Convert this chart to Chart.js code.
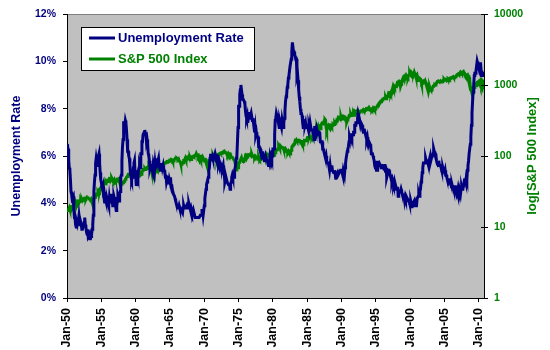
<!DOCTYPE html>
<html>
<head>
<meta charset="utf-8">
<script src="https://cdn.jsdelivr.net/npm/chart.js"></script>
<style>
  html, body { margin: 0; padding: 0; background: #fff; }
</style>
</head>
<body>
<canvas id="chart" width="550" height="350"></canvas>
<script>
// monthly, Jan 1950 .. Oct 2010
const startYear = 1950;

const unemploymentRate = [
  6.5, 6.4, 6.3, 5.8, 5.5, 5.4, 5.0, 4.5, 4.4, 4.2, 4.2, 4.3, // 1950
  3.7, 3.4, 3.4, 3.1, 3.0, 3.2, 3.1, 3.1, 3.3, 3.5, 3.5, 3.1,
  3.2, 3.1, 2.9, 2.9, 3.0, 3.0, 3.2, 3.4, 3.1, 3.0, 2.8, 2.7,
  2.9, 2.6, 2.6, 2.7, 2.5, 2.5, 2.6, 2.7, 2.9, 3.1, 3.5, 4.5,
  4.9, 5.2, 5.7, 5.9, 5.9, 5.6, 5.8, 6.0, 6.1, 5.7, 5.3, 5.0,
  4.9, 4.7, 4.6, 4.7, 4.3, 4.2, 4.0, 4.2, 4.1, 4.3, 4.2, 4.2, // 1955
  4.0, 3.9, 4.2, 4.0, 4.3, 4.3, 4.4, 4.1, 3.9, 3.9, 4.3, 4.2,
  4.2, 3.9, 3.7, 3.9, 4.1, 4.3, 4.2, 4.1, 4.4, 4.5, 5.1, 5.2,
  5.8, 6.4, 6.7, 7.4, 7.4, 7.3, 7.5, 7.4, 7.1, 6.7, 6.2, 6.2,
  6.0, 5.9, 5.6, 5.2, 5.1, 5.0, 5.1, 5.2, 5.5, 5.7, 5.8, 5.3,
  5.2, 4.8, 5.4, 5.2, 5.1, 5.4, 5.5, 5.6, 5.5, 6.1, 6.1, 6.6, // 1960
  6.6, 6.9, 6.9, 7.0, 7.1, 6.9, 7.0, 6.6, 6.7, 6.5, 6.1, 6.0,
  5.8, 5.5, 5.6, 5.6, 5.5, 5.5, 5.4, 5.7, 5.6, 5.4, 5.7, 5.5,
  5.7, 5.9, 5.7, 5.7, 5.9, 5.6, 5.6, 5.4, 5.5, 5.5, 5.7, 5.5,
  5.6, 5.4, 5.4, 5.3, 5.1, 5.2, 4.9, 5.0, 5.1, 5.1, 4.8, 5.0,
  4.9, 5.1, 4.7, 4.8, 4.6, 4.6, 4.4, 4.4, 4.3, 4.2, 4.1, 4.0, // 1965
  4.0, 3.8, 3.8, 3.8, 3.9, 3.8, 3.8, 3.8, 3.7, 3.7, 3.6, 3.8,
  3.9, 3.8, 3.8, 3.8, 3.8, 3.9, 3.8, 3.8, 3.8, 4.0, 3.9, 3.8,
  3.7, 3.8, 3.7, 3.5, 3.5, 3.7, 3.7, 3.5, 3.4, 3.4, 3.4, 3.4,
  3.4, 3.4, 3.4, 3.4, 3.4, 3.5, 3.5, 3.5, 3.7, 3.7, 3.5, 3.5,
  3.9, 4.2, 4.4, 4.6, 4.8, 4.9, 5.0, 5.1, 5.4, 5.5, 5.9, 6.1, // 1970
  5.9, 5.9, 6.0, 5.9, 5.9, 5.9, 6.0, 6.1, 6.0, 5.8, 6.0, 6.0,
  5.8, 5.7, 5.8, 5.7, 5.7, 5.7, 5.6, 5.6, 5.5, 5.6, 5.3, 5.2,
  4.9, 5.0, 4.9, 5.0, 4.9, 4.9, 4.8, 4.8, 4.8, 4.6, 4.8, 4.9,
  5.1, 5.2, 5.1, 5.1, 5.1, 5.4, 5.5, 5.5, 5.9, 6.0, 6.6, 7.2,
  8.1, 8.1, 8.6, 8.8, 9.0, 8.8, 8.6, 8.4, 8.4, 8.4, 8.3, 8.2, // 1975
  7.9, 7.7, 7.6, 7.7, 7.4, 7.6, 7.8, 7.8, 7.6, 7.7, 7.8, 7.8,
  7.5, 7.6, 7.4, 7.2, 7.0, 7.2, 6.9, 7.0, 6.8, 6.8, 6.8, 6.4,
  6.4, 6.3, 6.3, 6.1, 6.0, 5.9, 6.2, 5.9, 6.0, 5.8, 5.9, 6.0,
  5.9, 5.9, 5.8, 5.8, 5.6, 5.7, 5.7, 6.0, 5.9, 6.0, 5.9, 6.0,
  6.3, 6.3, 6.3, 6.9, 7.5, 7.6, 7.8, 7.7, 7.5, 7.5, 7.5, 7.2, // 1980
  7.5, 7.4, 7.4, 7.2, 7.5, 7.5, 7.2, 7.4, 7.6, 7.9, 8.3, 8.5,
  8.6, 8.9, 9.0, 9.3, 9.4, 9.6, 9.8, 9.8, 10.1, 10.4, 10.8, 10.8,
  10.4, 10.4, 10.3, 10.2, 10.1, 10.1, 9.4, 9.5, 9.2, 8.8, 8.5, 8.3,
  8.0, 7.8, 7.8, 7.7, 7.4, 7.2, 7.5, 7.5, 7.3, 7.4, 7.2, 7.3,
  7.3, 7.2, 7.2, 7.3, 7.2, 7.4, 7.4, 7.1, 7.1, 7.1, 7.0, 7.0, // 1985
  6.7, 7.2, 7.2, 7.1, 7.2, 7.2, 7.0, 6.9, 7.0, 7.0, 6.9, 6.6,
  6.6, 6.6, 6.6, 6.3, 6.3, 6.2, 6.1, 6.0, 5.9, 6.0, 5.8, 5.7,
  5.7, 5.7, 5.7, 5.4, 5.6, 5.4, 5.4, 5.6, 5.4, 5.4, 5.3, 5.3,
  5.4, 5.2, 5.0, 5.2, 5.2, 5.3, 5.2, 5.2, 5.3, 5.3, 5.4, 5.4,
  5.4, 5.3, 5.2, 5.4, 5.4, 5.2, 5.5, 5.7, 5.9, 5.9, 6.2, 6.3, // 1990
  6.4, 6.6, 6.8, 6.7, 6.9, 6.9, 6.8, 6.9, 6.9, 7.0, 7.0, 7.3,
  7.3, 7.4, 7.4, 7.4, 7.6, 7.8, 7.7, 7.6, 7.6, 7.3, 7.4, 7.4,
  7.3, 7.1, 7.0, 7.1, 7.1, 7.0, 6.9, 6.8, 6.7, 6.8, 6.6, 6.5,
  6.6, 6.6, 6.5, 6.4, 6.1, 6.1, 6.1, 6.0, 5.9, 5.8, 5.6, 5.5,
  5.6, 5.4, 5.4, 5.8, 5.6, 5.6, 5.7, 5.7, 5.6, 5.5, 5.6, 5.6, // 1995
  5.6, 5.5, 5.5, 5.6, 5.6, 5.3, 5.5, 5.1, 5.2, 5.2, 5.4, 5.4,
  5.3, 5.2, 5.2, 5.1, 4.9, 5.0, 4.9, 4.8, 4.9, 4.7, 4.6, 4.7,
  4.6, 4.6, 4.7, 4.3, 4.4, 4.5, 4.5, 4.5, 4.6, 4.5, 4.4, 4.4,
  4.3, 4.4, 4.2, 4.3, 4.2, 4.3, 4.3, 4.2, 4.2, 4.1, 4.1, 4.0,
  4.0, 4.1, 4.0, 3.8, 4.0, 4.0, 4.0, 4.1, 3.9, 3.9, 3.9, 3.9, // 2000
  4.2, 4.2, 4.3, 4.4, 4.3, 4.5, 4.6, 4.9, 5.0, 5.3, 5.5, 5.7,
  5.7, 5.7, 5.7, 5.9, 5.8, 5.8, 5.8, 5.7, 5.7, 5.7, 5.9, 6.0,
  5.8, 5.9, 5.9, 6.0, 6.1, 6.3, 6.2, 6.1, 6.1, 6.0, 5.8, 5.7,
  5.7, 5.6, 5.8, 5.6, 5.6, 5.6, 5.5, 5.4, 5.4, 5.5, 5.4, 5.4,
  5.3, 5.4, 5.2, 5.2, 5.1, 5.0, 5.0, 4.9, 5.0, 5.0, 5.0, 4.9, // 2005
  4.7, 4.8, 4.7, 4.7, 4.6, 4.6, 4.7, 4.7, 4.5, 4.4, 4.5, 4.4,
  4.6, 4.5, 4.4, 4.5, 4.4, 4.6, 4.7, 4.6, 4.7, 4.7, 4.7, 5.0,
  5.0, 4.9, 5.1, 5.0, 5.4, 5.6, 5.8, 6.1, 6.1, 6.5, 6.8, 7.3,
  7.8, 8.3, 8.7, 9.0, 9.4, 9.5, 9.5, 9.6, 9.8, 10.0, 9.9, 9.9,
  9.8, 9.8, 9.9, 9.9, 9.6, 9.4, 9.4, 9.5, 9.5, 9.5               // 2010
];

const sp500Index = [
  17.05, 17.22, 17.29, 17.96, 18.78, 17.69, 17.84, 18.42, 19.45, 19.53, 19.51, 20.41, // 1950
  21.66, 21.80, 21.40, 22.43, 21.52, 20.96, 22.40, 23.28, 23.26, 22.94, 22.88, 23.77,
  24.14, 23.26, 24.37, 23.32, 23.86, 24.96, 25.40, 25.03, 24.54, 24.52, 25.66, 26.57,
  26.38, 25.90, 25.29, 24.62, 24.54, 24.14, 24.75, 23.32, 23.35, 24.54, 24.76, 24.81,
  26.08, 26.15, 26.94, 28.26, 29.19, 29.21, 30.88, 29.83, 32.31, 31.68, 34.24, 35.98,
  36.63, 36.76, 36.58, 37.96, 37.91, 41.03, 43.52, 43.18, 43.67, 42.34, 45.51, 45.48, // 1955
  43.82, 45.34, 48.48, 48.38, 45.20, 46.97, 49.39, 47.51, 45.35, 45.58, 45.08, 46.67,
  44.72, 43.26, 44.11, 45.74, 47.43, 47.37, 47.91, 45.22, 42.42, 41.06, 41.72, 39.99,
  41.70, 40.84, 42.10, 43.44, 44.09, 45.24, 47.19, 47.75, 50.06, 51.33, 52.48, 55.21,
  55.42, 55.41, 55.44, 57.59, 58.68, 58.47, 60.51, 59.60, 56.88, 57.52, 58.28, 59.89,
  55.61, 56.12, 55.34, 54.37, 55.83, 56.92, 55.51, 58.07, 53.39, 53.39, 55.54, 58.11, // 1960
  61.78, 63.44, 65.06, 65.31, 66.56, 64.64, 66.76, 68.07, 66.73, 68.62, 71.32, 71.55,
  68.84, 69.96, 69.55, 65.24, 59.63, 54.75, 58.23, 59.12, 56.27, 56.52, 62.26, 63.10,
  66.20, 64.29, 66.57, 69.80, 70.80, 69.37, 69.13, 72.50, 71.70, 74.01, 73.23, 75.02,
  77.04, 77.80, 78.98, 79.46, 80.37, 81.69, 83.18, 81.83, 84.18, 84.86, 84.42, 84.75,
  87.56, 87.43, 86.16, 89.11, 88.42, 84.12, 85.25, 87.17, 89.96, 92.42, 91.61, 92.43, // 1965
  92.88, 91.22, 89.23, 91.06, 86.13, 84.74, 83.60, 77.10, 76.56, 80.20, 80.45, 80.33,
  86.61, 86.78, 90.20, 94.01, 89.08, 90.64, 94.75, 93.64, 96.71, 93.90, 94.00, 96.47,
  92.24, 89.36, 90.20, 97.59, 98.68, 99.58, 97.74, 98.86, 102.67, 103.41, 108.37, 103.86,
  103.01, 98.13, 101.51, 103.69, 103.46, 97.71, 91.83, 95.51, 93.12, 97.24, 93.81, 92.06,
  85.02, 89.50, 89.63, 81.52, 76.55, 72.72, 78.05, 81.52, 84.21, 83.25, 87.20, 92.15, // 1970
  95.88, 96.75, 100.31, 103.95, 99.63, 99.70, 95.58, 99.03, 98.34, 94.23, 93.99, 102.09,
  103.94, 106.57, 107.20, 107.67, 109.53, 107.14, 107.39, 111.09, 110.55, 111.58, 116.67, 118.05,
  116.03, 111.68, 111.52, 106.97, 104.95, 104.26, 108.22, 104.25, 108.43, 108.29, 95.96, 97.55,
  96.57, 96.22, 93.98, 90.31, 87.28, 86.00, 79.31, 72.15, 63.54, 73.90, 69.97, 68.56,
  76.98, 81.59, 83.36, 87.30, 91.15, 95.19, 88.75, 86.88, 83.87, 89.04, 91.24, 90.19, // 1975
  100.86, 99.71, 102.77, 101.64, 100.18, 104.28, 103.44, 102.91, 105.24, 102.90, 102.10, 107.46,
  102.03, 99.82, 98.42, 98.44, 96.12, 100.48, 98.85, 96.77, 96.53, 92.34, 94.83, 95.10,
  89.25, 87.04, 89.21, 96.83, 97.24, 95.53, 100.68, 103.29, 102.54, 93.15, 94.70, 96.11,
  99.93, 96.28, 101.59, 101.76, 99.08, 102.91, 103.81, 109.32, 109.32, 101.82, 106.16, 107.94,
  114.16, 113.66, 102.09, 106.29, 111.24, 114.24, 121.67, 122.38, 125.46, 127.47, 140.52, 135.76, // 1980
  129.55, 131.27, 136.00, 132.81, 132.59, 131.21, 130.92, 122.79, 116.18, 121.89, 126.35, 122.55,
  120.40, 113.11, 111.96, 116.44, 111.88, 109.61, 107.09, 119.51, 120.42, 133.71, 138.54, 140.64,
  145.30, 148.06, 152.96, 164.42, 162.39, 168.11, 162.56, 164.40, 166.07, 163.55, 166.40, 164.93,
  163.41, 157.06, 159.18, 160.05, 150.55, 153.18, 150.66, 166.68, 166.10, 166.09, 163.58, 167.24,
  179.63, 181.18, 180.66, 179.83, 189.55, 191.85, 190.92, 188.63, 182.08, 189.82, 202.17, 211.28, // 1985
  211.78, 226.92, 238.90, 235.52, 247.35, 250.84, 236.12, 252.93, 231.32, 243.98, 249.22, 242.17,
  274.08, 284.20, 291.70, 288.36, 290.10, 304.00, 318.66, 329.80, 321.83, 251.79, 230.30, 247.08,
  257.07, 267.82, 258.89, 261.33, 262.16, 273.50, 272.02, 261.52, 271.91, 278.97, 273.70, 277.72,
  297.47, 288.86, 294.87, 309.64, 320.52, 317.98, 346.08, 351.45, 349.15, 340.36, 345.99, 353.40,
  329.08, 331.89, 339.94, 330.80, 361.23, 358.02, 356.15, 322.56, 306.05, 304.00, 322.22, 330.22, // 1990
  343.93, 367.07, 375.22, 375.35, 389.83, 371.16, 387.81, 395.43, 387.86, 392.46, 375.22, 417.09,
  408.79, 412.70, 403.69, 414.95, 415.35, 408.14, 424.21, 414.03, 417.80, 418.68, 431.35, 435.71,
  438.78, 443.38, 451.67, 440.19, 450.19, 450.53, 448.13, 463.56, 458.93, 467.83, 461.79, 466.45,
  481.61, 467.14, 445.77, 450.91, 456.50, 444.27, 458.26, 475.49, 462.69, 472.35, 453.69, 459.27,
  470.42, 487.39, 500.71, 514.71, 533.40, 544.75, 562.06, 561.88, 584.41, 581.50, 605.37, 615.93, // 1995
  636.02, 640.43, 645.50, 654.17, 669.12, 670.63, 639.95, 651.99, 687.31, 705.27, 757.02, 740.74,
  786.16, 790.82, 757.12, 801.34, 848.28, 885.14, 954.29, 899.47, 947.28, 914.62, 955.40, 970.43,
  980.28, 1049.34, 1101.75, 1111.75, 1090.82, 1133.84, 1120.67, 957.28, 1017.01, 1098.67, 1163.63, 1229.23,
  1279.64, 1238.33, 1286.37, 1335.18, 1301.84, 1372.71, 1328.72, 1320.41, 1282.71, 1362.93, 1388.91, 1469.25,
  1394.46, 1366.42, 1498.58, 1452.43, 1420.60, 1454.60, 1430.83, 1517.68, 1436.51, 1429.40, 1314.95, 1320.28, // 2000
  1366.01, 1239.94, 1160.33, 1249.46, 1255.82, 1224.38, 1211.23, 1133.58, 1040.94, 1059.78, 1139.45, 1148.08,
  1130.20, 1106.73, 1147.39, 1076.92, 1067.14, 989.82, 911.62, 916.07, 815.28, 885.76, 936.31, 879.82,
  855.70, 841.15, 849.18, 916.92, 963.59, 974.50, 990.31, 1008.01, 995.97, 1050.71, 1058.20, 1111.92,
  1131.13, 1144.94, 1126.21, 1107.30, 1120.68, 1140.84, 1101.72, 1104.24, 1114.58, 1130.20, 1173.82, 1211.92,
  1181.27, 1203.60, 1180.59, 1156.85, 1191.50, 1191.33, 1234.18, 1220.33, 1228.81, 1207.01, 1249.48, 1248.29, // 2005
  1280.08, 1280.66, 1294.83, 1310.61, 1270.09, 1270.20, 1276.66, 1303.82, 1335.85, 1377.94, 1400.63, 1418.30,
  1438.24, 1406.82, 1420.86, 1482.37, 1530.62, 1503.35, 1455.27, 1473.99, 1526.75, 1549.38, 1481.14, 1468.36,
  1378.55, 1330.63, 1322.70, 1385.59, 1400.38, 1280.00, 1267.38, 1282.83, 1166.36, 968.75, 896.24, 903.25,
  825.88, 735.09, 797.87, 872.81, 919.14, 919.32, 987.48, 1020.62, 1057.08, 1036.19, 1095.63, 1115.10,
  1073.87, 1104.49, 1169.43, 1186.69, 1089.41, 1030.71, 1101.60, 1049.33, 1141.20, 1183.26                  // 2010
];

const xTickYears = [1950, 1955, 1960, 1965, 1970, 1975, 1980, 1985, 1990, 1995, 2000, 2005, 2010];
const leftTicks = [0, 2, 4, 6, 8, 10, 12];
const rightTicks = [1, 10, 100, 1000, 10000];

const NAVY = "#000080";
const GREEN = "#008000";
const FONT = "'Liberation Sans', Arial, sans-serif";

const toPoints = (values) => values.map((v, i) => ({ x: startYear + i / 12, y: v }));

// grey plot area, grey top border
const plotBackground = {
  id: "plotBackground",
  beforeDraw(chart) {
    const { ctx, chartArea: a } = chart;
    ctx.save();
    ctx.fillStyle = "#C0C0C0";
    ctx.fillRect(a.left, a.top, a.right - a.left, a.bottom - a.top);
    ctx.strokeStyle = "#808080";
    ctx.lineWidth = 1;
    ctx.beginPath();
    ctx.moveTo(a.left, a.top + 0.5);
    ctx.lineTo(a.right, a.top + 0.5);
    ctx.stroke();
    ctx.restore();
  }
};

// boxed legend inside the plot + both axis titles reading bottom to top
const extras = {
  id: "extras",
  afterDraw(chart) {
    const { ctx, chartArea: a } = chart;
    ctx.save();

    // right axis ticks cross the axis line
    const y1 = chart.scales.y1;
    ctx.strokeStyle = "#000";
    ctx.lineWidth = 1;
    y1.ticks.forEach((t) => {
      const y = Math.round(y1.getPixelForValue(t.value)) + 0.5;
      ctx.beginPath();
      ctx.moveTo(a.right - 3, y);
      ctx.lineTo(a.right, y);
      ctx.stroke();
    });

    ctx.fillStyle = "#fff";
    ctx.fillRect(81, 27, 173, 43);
    ctx.strokeStyle = "#000";
    ctx.lineWidth = 1;
    ctx.strokeRect(81.5, 27.5, 173, 43);

    ctx.font = "bold 13px " + FONT;
    ctx.textBaseline = "middle";
    chart.data.datasets.forEach((ds, i) => {
      const y = 38 + i * 21;
      ctx.strokeStyle = ds.borderColor;
      ctx.lineWidth = 3;
      ctx.beginPath();
      ctx.moveTo(89, y);
      ctx.lineTo(115, y);
      ctx.stroke();
      ctx.fillStyle = ds.borderColor;
      ctx.fillText(ds.label, 118, y + 0.5);
    });

    const midY = (a.top + a.bottom) / 2;
    ctx.textAlign = "center";
    ctx.textBaseline = "middle";

    ctx.save();
    ctx.translate(17, midY);
    ctx.rotate(-Math.PI / 2);
    ctx.fillStyle = NAVY;
    ctx.font = "bold 12.5px " + FONT;
    ctx.fillText("Unemployment Rate", 0, 0);
    ctx.restore();

    ctx.save();
    ctx.translate(532, midY);
    ctx.rotate(-Math.PI / 2);
    ctx.fillStyle = GREEN;
    ctx.font = "bold 13px " + FONT;
    ctx.fillText("log[S&P 500 Index]", 0, 0);
    ctx.restore();

    ctx.restore();
  }
};

new Chart(document.getElementById("chart"), {
  type: "line",
  data: {
    datasets: [
      {
        label: "Unemployment Rate",
        data: toPoints(unemploymentRate),
        borderColor: NAVY,
        borderWidth: 3,
        pointRadius: 0,
        yAxisID: "y"
      },
      {
        label: "S&P 500 Index",
        data: toPoints(sp500Index),
        borderColor: GREEN,
        borderWidth: 3,
        pointRadius: 0,
        yAxisID: "y1"
      }
    ]
  },
  options: {
    responsive: false,
    animation: false,
    devicePixelRatio: 1,
    layout: { padding: { top: 14, left: 0, right: 0, bottom: 0 } },
    plugins: {
      legend: { display: false },
      tooltip: { enabled: false }
    },
    scales: {
      x: {
        type: "linear",
        min: startYear,
        max: startYear + (unemploymentRate.length - 1) / 12,
        afterBuildTicks: (scale) => { scale.ticks = xTickYears.map((v) => ({ value: v })); },
        afterFit: (scale) => { scale.height = 52; },
        grid: { drawOnChartArea: false, drawTicks: true, tickLength: 4, color: "#000" },
        border: { color: "#000", width: 1 },
        ticks: {
          autoSkip: false,
          minRotation: 90,
          maxRotation: 90,
          padding: 6,
          color: "#000",
          font: { family: FONT, size: 12.5, weight: "bold" },
          callback: (v) => "Jan-" + String(v % 100).padStart(2, "0")
        }
      },
      y: {
        position: "left",
        min: 0,
        max: 12,
        afterBuildTicks: (scale) => { scale.ticks = leftTicks.map((v) => ({ value: v })); },
        afterFit: (scale) => { scale.width = 67; },
        grid: { drawOnChartArea: false, drawTicks: true, tickLength: 4, color: "#000" },
        border: { color: "#000", width: 1 },
        ticks: {
          padding: 7,
          color: NAVY,
          font: { family: FONT, size: 10.5, weight: "bold" },
          callback: (v) => v + "%"
        }
      },
      y1: {
        type: "logarithmic",
        position: "right",
        min: 1,
        max: 10000,
        afterBuildTicks: (scale) => { scale.ticks = rightTicks.map((v) => ({ value: v })); },
        afterFit: (scale) => { scale.width = 66; },
        grid: { drawOnChartArea: false, drawTicks: true, tickLength: 4, color: "#000" },
        border: { color: "#000", width: 1 },
        ticks: {
          padding: 6,
          color: GREEN,
          font: { family: FONT, size: 10.5, weight: "bold" },
          callback: (v) => String(v)
        }
      }
    }
  },
  plugins: [plotBackground, extras]
});
</script>
</body>
</html>
